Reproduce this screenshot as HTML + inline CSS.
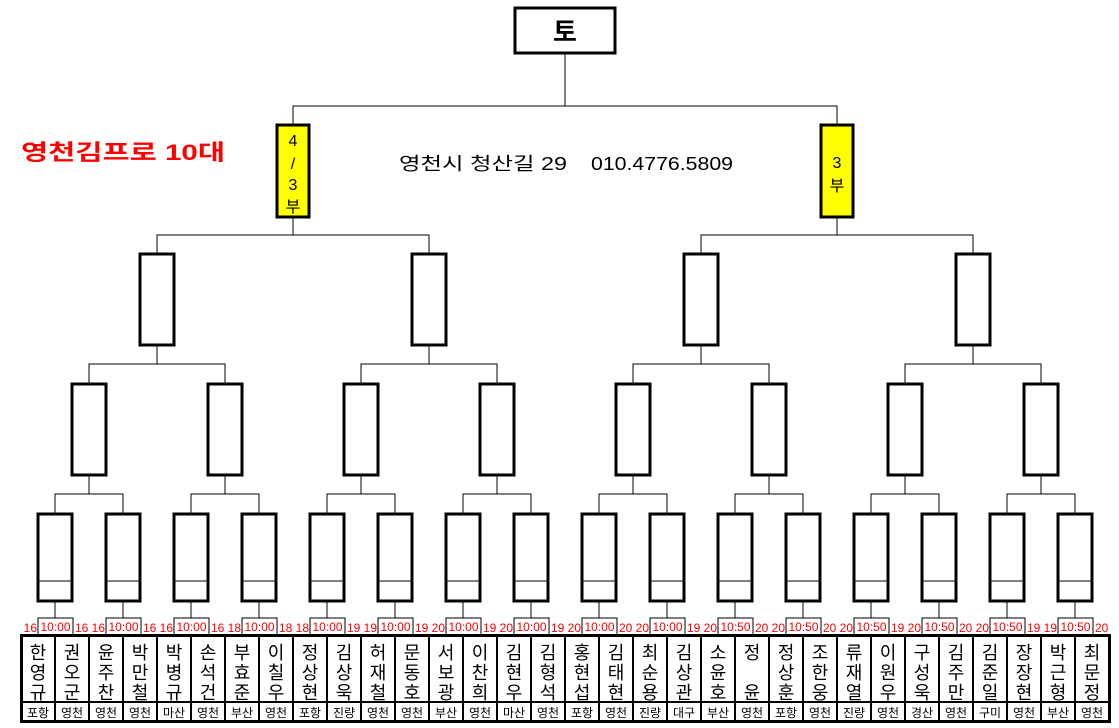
<!DOCTYPE html>
<html><head><meta charset="utf-8"><style>
html,body{margin:0;padding:0;background:#fff}
svg{display:block}
text{font-family:"Liberation Sans","Noto Sans CJK KR","NanumGothic",sans-serif}
.n{font-size:18px;text-anchor:middle}
.r{font-size:12px;text-anchor:middle}
.t{font-size:12px;fill:#f00;text-anchor:middle}
.tl{font-size:12px;fill:#f00;text-anchor:end}
.tr{font-size:12px;fill:#f00;text-anchor:start}
</style></head><body>
<svg width="1119" height="728" viewBox="0 0 1119 728" xmlns="http://www.w3.org/2000/svg">
<rect width="1119" height="728" fill="#fff"/>
<g fill="none" stroke="#000" stroke-width="1">
<path d="M293 125V106H837V125M565 106V53"/>
<path d="M157 253V235H429V253M293 235V218M701 253V235H973V253M837 235V218"/>
<path d="M89 383V364H225V383M157 364V345M361 383V364H497V383M429 364V345M633 383V364H769V383M701 364V345M905 383V364H1041V383M973 364V345"/>
<path d="M55 513V494H123V513M89 494V476M191 513V494H259V513M225 494V476M327 513V494H395V513M361 494V476M463 513V494H531V513M497 494V476M599 513V494H667V513M633 494V476M735 513V494H803V513M769 494V476M871 513V494H939V513M905 494V476M1007 513V494H1075V513M1041 494V476"/>
<path d="M55 601V618M123 601V618M191 601V618M259 601V618M327 601V618M395 601V618M463 601V618M531 601V618M599 601V618M667 601V618M735 601V618M803 601V618M871 601V618M939 601V618M1007 601V618M1075 601V618"/>
</g>
<rect x="515" y="8" width="100" height="45" fill="#fff" stroke="#000" stroke-width="3"/>
<text x="565" y="41" font-size="26" font-weight="bold" text-anchor="middle">토</text>
<rect x="277" y="125" width="32" height="92" fill="#ff0" stroke="#000" stroke-width="3"/>
<rect x="821" y="125" width="32" height="92" fill="#ff0" stroke="#000" stroke-width="3"/>
<g font-size="16" text-anchor="middle">
<text x="293" y="146">4</text><text x="293" y="169">/</text><text x="293" y="190">3</text><text x="293" y="212">부</text>
<text x="837" y="168">3</text><text x="837" y="191">부</text>
</g>
<text x="21" y="160" font-size="22" font-weight="bold" fill="#f00" textLength="204" lengthAdjust="spacingAndGlyphs">영천김프로 10대</text>
<text x="399" y="170" font-size="18" textLength="168" lengthAdjust="spacingAndGlyphs">영천시 청산길 29</text>
<text x="591" y="170" font-size="18" textLength="142" lengthAdjust="spacingAndGlyphs">010.4776.5809</text>
<g fill="#fff" stroke="#000" stroke-width="3">
<rect x="140" y="254" width="34" height="91"/><rect x="412" y="254" width="34" height="91"/><rect x="684" y="254" width="34" height="91"/><rect x="956" y="254" width="34" height="91"/>
<rect x="72" y="384" width="34" height="91"/><rect x="208" y="384" width="34" height="91"/><rect x="344" y="384" width="34" height="91"/><rect x="480" y="384" width="34" height="91"/><rect x="616" y="384" width="34" height="91"/><rect x="752" y="384" width="34" height="91"/><rect x="888" y="384" width="34" height="91"/><rect x="1024" y="384" width="34" height="91"/>
<rect x="38" y="514" width="34" height="87"/><rect x="106" y="514" width="34" height="87"/><rect x="174" y="514" width="34" height="87"/><rect x="242" y="514" width="34" height="87"/><rect x="310" y="514" width="34" height="87"/><rect x="378" y="514" width="34" height="87"/><rect x="446" y="514" width="34" height="87"/><rect x="514" y="514" width="34" height="87"/><rect x="582" y="514" width="34" height="87"/><rect x="650" y="514" width="34" height="87"/><rect x="718" y="514" width="34" height="87"/><rect x="786" y="514" width="34" height="87"/><rect x="854" y="514" width="34" height="87"/><rect x="922" y="514" width="34" height="87"/><rect x="990" y="514" width="34" height="87"/><rect x="1058" y="514" width="34" height="87"/>
</g>
<path fill="none" stroke="#000" stroke-width="1" d="M38 581H72M106 581H140M174 581H208M242 581H276M310 581H344M378 581H412M446 581H480M514 581H548M582 581H616M650 581H684M718 581H752M786 581H820M854 581H888M922 581H956M990 581H1024M1058 581H1092"/>
<g fill="#fff" stroke="#000" stroke-width="1">
<rect x="38" y="618" width="35" height="17"/><rect x="106" y="618" width="35" height="17"/><rect x="174" y="618" width="35" height="17"/><rect x="242" y="618" width="35" height="17"/><rect x="310" y="618" width="35" height="17"/><rect x="378" y="618" width="35" height="17"/><rect x="446" y="618" width="35" height="17"/><rect x="514" y="618" width="35" height="17"/><rect x="582" y="618" width="35" height="17"/><rect x="650" y="618" width="35" height="17"/><rect x="718" y="618" width="35" height="17"/><rect x="786" y="618" width="35" height="17"/><rect x="854" y="618" width="35" height="17"/><rect x="922" y="618" width="35" height="17"/><rect x="990" y="618" width="35" height="17"/><rect x="1058" y="618" width="35" height="17"/>
</g>
<g>
<text class="t" x="55.5" y="631">10:00</text><text class="tl" x="37" y="632">16</text><text class="tr" x="75" y="632">16</text>
<text class="t" x="123.5" y="631">10:00</text><text class="tl" x="105" y="632">16</text><text class="tr" x="143" y="632">16</text>
<text class="t" x="191.5" y="631">10:00</text><text class="tl" x="173" y="632">16</text><text class="tr" x="211" y="632">16</text>
<text class="t" x="259.5" y="631">10:00</text><text class="tl" x="241" y="632">18</text><text class="tr" x="279" y="632">18</text>
<text class="t" x="327.5" y="631">10:00</text><text class="tl" x="309" y="632">18</text><text class="tr" x="347" y="632">19</text>
<text class="t" x="395.5" y="631">10:00</text><text class="tl" x="377" y="632">19</text><text class="tr" x="415" y="632">19</text>
<text class="t" x="463.5" y="631">10:00</text><text class="tl" x="445" y="632">20</text><text class="tr" x="483" y="632">19</text>
<text class="t" x="531.5" y="631">10:00</text><text class="tl" x="513" y="632">20</text><text class="tr" x="551" y="632">19</text>
<text class="t" x="599.5" y="631">10:00</text><text class="tl" x="581" y="632">20</text><text class="tr" x="619" y="632">20</text>
<text class="t" x="667.5" y="631">10:00</text><text class="tl" x="649" y="632">20</text><text class="tr" x="687" y="632">19</text>
<text class="t" x="735.5" y="631">10:50</text><text class="tl" x="717" y="632">20</text><text class="tr" x="755" y="632">20</text>
<text class="t" x="803.5" y="631">10:50</text><text class="tl" x="785" y="632">20</text><text class="tr" x="823" y="632">20</text>
<text class="t" x="871.5" y="631">10:50</text><text class="tl" x="853" y="632">20</text><text class="tr" x="891" y="632">19</text>
<text class="t" x="939.5" y="631">10:50</text><text class="tl" x="921" y="632">20</text><text class="tr" x="959" y="632">20</text>
<text class="t" x="1007.5" y="631">10:50</text><text class="tl" x="989" y="632">20</text><text class="tr" x="1027" y="632">19</text>
<text class="t" x="1075.5" y="631">10:50</text><text class="tl" x="1057" y="632">19</text><text class="tr" x="1095" y="632">20</text>
</g>
<rect x="21.5" y="635.5" width="1088" height="86" fill="none" stroke="#000" stroke-width="3"/>
<path fill="none" stroke="#000" stroke-width="2" d="M21 702H1110M55 635V722M89 635V722M123 635V722M157 635V722M191 635V722M225 635V722M259 635V722M293 635V722M327 635V722M361 635V722M395 635V722M429 635V722M463 635V722M497 635V722M531 635V722M565 635V722M599 635V722M633 635V722M667 635V722M701 635V722M735 635V722M769 635V722M803 635V722M837 635V722M871 635V722M905 635V722M939 635V722M973 635V722M1007 635V722M1041 635V722M1075 635V722"/>
<g class="names">
<text class="n" x="38"><tspan x="38" y="659">한</tspan><tspan x="38" y="679">영</tspan><tspan x="38" y="699">규</tspan></text>
<text class="n" x="72"><tspan x="72" y="659">권</tspan><tspan x="72" y="679">오</tspan><tspan x="72" y="699">군</tspan></text>
<text class="n" x="106"><tspan x="106" y="659">윤</tspan><tspan x="106" y="679">주</tspan><tspan x="106" y="699">찬</tspan></text>
<text class="n" x="140"><tspan x="140" y="659">박</tspan><tspan x="140" y="679">만</tspan><tspan x="140" y="699">철</tspan></text>
<text class="n" x="174"><tspan x="174" y="659">박</tspan><tspan x="174" y="679">병</tspan><tspan x="174" y="699">규</tspan></text>
<text class="n" x="208"><tspan x="208" y="659">손</tspan><tspan x="208" y="679">석</tspan><tspan x="208" y="699">건</tspan></text>
<text class="n" x="242"><tspan x="242" y="659">부</tspan><tspan x="242" y="679">효</tspan><tspan x="242" y="699">준</tspan></text>
<text class="n" x="276"><tspan x="276" y="659">이</tspan><tspan x="276" y="679">칠</tspan><tspan x="276" y="699">우</tspan></text>
<text class="n" x="310"><tspan x="310" y="659">정</tspan><tspan x="310" y="679">상</tspan><tspan x="310" y="699">현</tspan></text>
<text class="n" x="344"><tspan x="344" y="659">김</tspan><tspan x="344" y="679">상</tspan><tspan x="344" y="699">욱</tspan></text>
<text class="n" x="378"><tspan x="378" y="659">허</tspan><tspan x="378" y="679">재</tspan><tspan x="378" y="699">철</tspan></text>
<text class="n" x="412"><tspan x="412" y="659">문</tspan><tspan x="412" y="679">동</tspan><tspan x="412" y="699">호</tspan></text>
<text class="n" x="446"><tspan x="446" y="659">서</tspan><tspan x="446" y="679">보</tspan><tspan x="446" y="699">광</tspan></text>
<text class="n" x="480"><tspan x="480" y="659">이</tspan><tspan x="480" y="679">찬</tspan><tspan x="480" y="699">희</tspan></text>
<text class="n" x="514"><tspan x="514" y="659">김</tspan><tspan x="514" y="679">현</tspan><tspan x="514" y="699">우</tspan></text>
<text class="n" x="548"><tspan x="548" y="659">김</tspan><tspan x="548" y="679">형</tspan><tspan x="548" y="699">석</tspan></text>
<text class="n" x="582"><tspan x="582" y="659">홍</tspan><tspan x="582" y="679">현</tspan><tspan x="582" y="699">섭</tspan></text>
<text class="n" x="616"><tspan x="616" y="659">김</tspan><tspan x="616" y="679">태</tspan><tspan x="616" y="699">현</tspan></text>
<text class="n" x="650"><tspan x="650" y="659">최</tspan><tspan x="650" y="679">순</tspan><tspan x="650" y="699">용</tspan></text>
<text class="n" x="684"><tspan x="684" y="659">김</tspan><tspan x="684" y="679">상</tspan><tspan x="684" y="699">관</tspan></text>
<text class="n" x="718"><tspan x="718" y="659">소</tspan><tspan x="718" y="679">윤</tspan><tspan x="718" y="699">호</tspan></text>
<text class="n" x="752"><tspan x="752" y="659">정</tspan><tspan x="752" y="699">윤</tspan></text>
<text class="n" x="786"><tspan x="786" y="659">정</tspan><tspan x="786" y="679">상</tspan><tspan x="786" y="699">훈</tspan></text>
<text class="n" x="820"><tspan x="820" y="659">조</tspan><tspan x="820" y="679">한</tspan><tspan x="820" y="699">웅</tspan></text>
<text class="n" x="854"><tspan x="854" y="659">류</tspan><tspan x="854" y="679">재</tspan><tspan x="854" y="699">열</tspan></text>
<text class="n" x="888"><tspan x="888" y="659">이</tspan><tspan x="888" y="679">원</tspan><tspan x="888" y="699">우</tspan></text>
<text class="n" x="922"><tspan x="922" y="659">구</tspan><tspan x="922" y="679">성</tspan><tspan x="922" y="699">욱</tspan></text>
<text class="n" x="956"><tspan x="956" y="659">김</tspan><tspan x="956" y="679">주</tspan><tspan x="956" y="699">만</tspan></text>
<text class="n" x="990"><tspan x="990" y="659">김</tspan><tspan x="990" y="679">준</tspan><tspan x="990" y="699">일</tspan></text>
<text class="n" x="1024"><tspan x="1024" y="659">장</tspan><tspan x="1024" y="679">장</tspan><tspan x="1024" y="699">현</tspan></text>
<text class="n" x="1058"><tspan x="1058" y="659">박</tspan><tspan x="1058" y="679">근</tspan><tspan x="1058" y="699">형</tspan></text>
<text class="n" x="1092"><tspan x="1092" y="659">최</tspan><tspan x="1092" y="679">문</tspan><tspan x="1092" y="699">정</tspan></text>
</g>
<g>
<text class="r" x="38" y="717">포항</text><text class="r" x="72" y="717">영천</text><text class="r" x="106" y="717">영천</text><text class="r" x="140" y="717">영천</text>
<text class="r" x="174" y="717">마산</text><text class="r" x="208" y="717">영천</text><text class="r" x="242" y="717">부산</text><text class="r" x="276" y="717">영천</text>
<text class="r" x="310" y="717">포항</text><text class="r" x="344" y="717">진량</text><text class="r" x="378" y="717">영천</text><text class="r" x="412" y="717">영천</text>
<text class="r" x="446" y="717">부산</text><text class="r" x="480" y="717">영천</text><text class="r" x="514" y="717">마산</text><text class="r" x="548" y="717">영천</text>
<text class="r" x="582" y="717">포항</text><text class="r" x="616" y="717">영천</text><text class="r" x="650" y="717">진량</text><text class="r" x="684" y="717">대구</text>
<text class="r" x="718" y="717">부산</text><text class="r" x="752" y="717">영천</text><text class="r" x="786" y="717">포항</text><text class="r" x="820" y="717">영천</text>
<text class="r" x="854" y="717">진량</text><text class="r" x="888" y="717">영천</text><text class="r" x="922" y="717">경산</text><text class="r" x="956" y="717">영천</text>
<text class="r" x="990" y="717">구미</text><text class="r" x="1024" y="717">영천</text><text class="r" x="1058" y="717">부산</text><text class="r" x="1092" y="717">영천</text>
</g>
</svg>
</body></html>
